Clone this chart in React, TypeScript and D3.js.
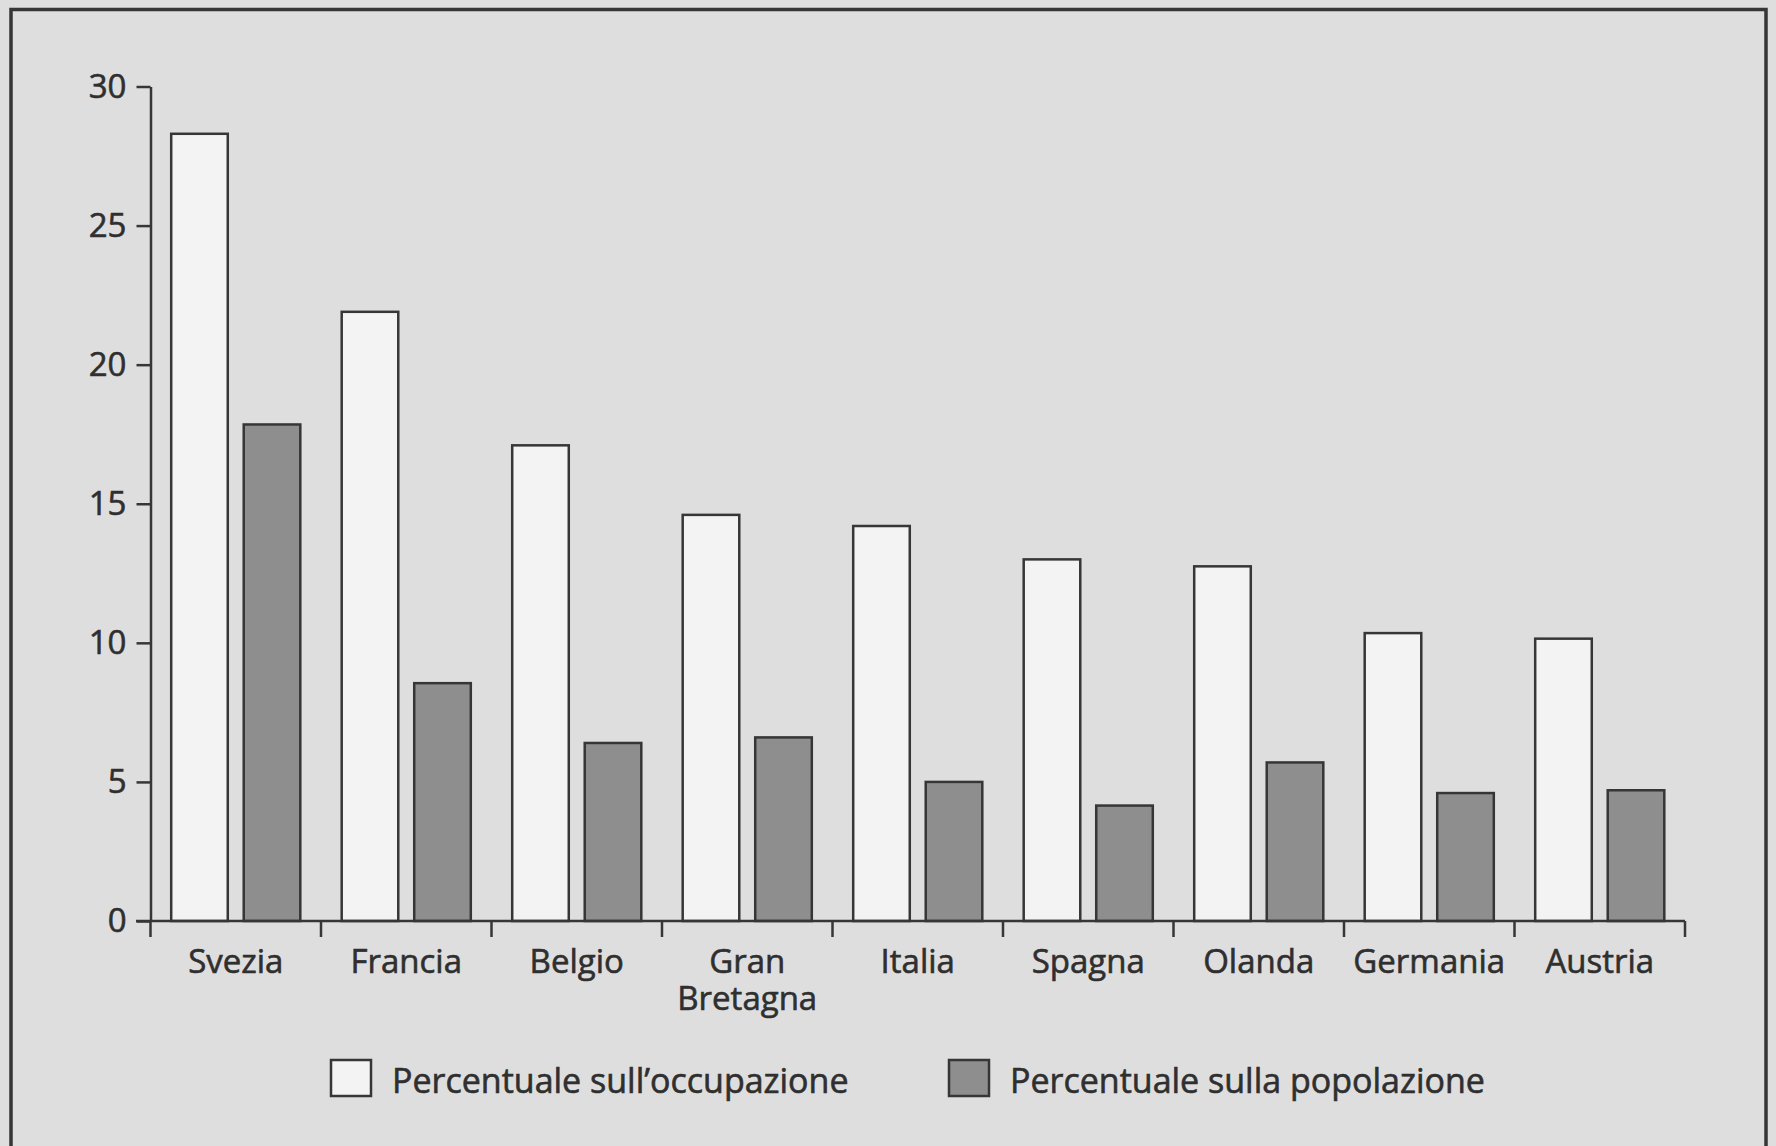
import React, { useEffect, useRef } from 'react';
import * as d3 from 'd3';

// dipendenti pubblici: % sull'occupazione e % sulla popolazione
const countries = ['Svezia', 'Francia', 'Belgio', 'Gran\nBretagna', 'Italia', 'Spagna', 'Olanda', 'Germania', 'Austria'];
const sullOccupazione = [28.3, 21.9, 17.1, 14.6, 14.2, 13.0, 12.75, 10.35, 10.15];
const sullaPopolazione = [17.85, 8.55, 6.4, 6.6, 5.0, 4.15, 5.7, 4.6, 4.7];
const yTicks = [0, 5, 10, 15, 20, 25, 30];
const legendLabels = ['Percentuale sull\u2019occupazione', 'Percentuale sulla popolazione'];

const W = 1776;
const H = 1146;
const ink = '#363636';
const textInk = '#2f2f2f';
const paper = '#dedede';
const font = '"Open Sans", "Noto Sans", sans-serif';

export default function App() {
  const yAxisRef = useRef<SVGGElement>(null);

  const x = d3.scaleBand<string>()
    .domain(countries)
    .range([150.5, 1685])
    .paddingInner(0)
    .paddingOuter(0);

  const inner = d3.scaleBand<string>()
    .domain(['occ', 'pop'])
    .range([20.7, x.bandwidth() - 20.7])
    .paddingInner(0.22)
    .paddingOuter(0);

  const y = d3.scaleLinear().domain([0, 30]).range([921, 86.5]);

  useEffect(() => {
    const g = d3.select(yAxisRef.current);
    g.selectAll('*').remove();
    g.call(d3.axisLeft(y).tickValues(yTicks).tickSize(14).tickSizeOuter(0).tickPadding(10));
    g.select('.domain').attr('stroke', ink).attr('stroke-width', 2.5);
    g.selectAll('.tick line').attr('stroke', ink).attr('stroke-width', 2.5);
    g.selectAll('.tick text')
      .attr('fill', textInk)
      .attr('stroke', textInk)
      .attr('stroke-width', 0.6)
      .style('font-family', font)
      .style('font-size', '33px');
  }, []);

  const boundaries = d3.range(countries.length + 1).map(i => x.range()[0] + i * x.step());

  return (
    <svg width={W} height={H} style={{ position: 'absolute', left: 0, top: 0, background: paper }}>
      <rect x={0} y={0} width={W} height={H} fill={paper} />
      {/* cornice */}
      <path d={`M11,${H + 5}V9.5H1766V${H + 5}`} fill="none" stroke={ink} strokeWidth={3.5} />

      {/* barre */}
      {countries.map((c, i) => (
        <g key={c} transform={`translate(${x(c)},0)`}>
          <rect
            x={inner('occ')}
            y={y(sullOccupazione[i])}
            width={inner.bandwidth()}
            height={y(0) - y(sullOccupazione[i])}
            fill="#f3f3f3"
            stroke={ink}
            strokeWidth={2.5}
          />
          <rect
            x={inner('pop')}
            y={y(sullaPopolazione[i])}
            width={inner.bandwidth()}
            height={y(0) - y(sullaPopolazione[i])}
            fill="#8e8e8e"
            stroke={ink}
            strokeWidth={2.5}
          />
        </g>
      ))}

      {/* asse y */}
      <g ref={yAxisRef} transform="translate(150.5,0)" />

      {/* asse x */}
      <line x1={136} x2={boundaries[boundaries.length - 1]} y1={y(0)} y2={y(0)} stroke={ink} strokeWidth={2.5} />
      {boundaries.map((b, i) => (
        <line key={i} x1={b} x2={b} y1={y(0)} y2={y(0) + 16} stroke={ink} strokeWidth={2.5} />
      ))}
      {countries.map(c => (
        <text
          key={c}
          x={(x(c) ?? 0) + x.bandwidth() / 2}
          y={973}
          textAnchor="middle"
          fill={textInk}
          stroke={textInk}
          strokeWidth={0.6}
          style={{ fontFamily: font, fontSize: 33 }}
        >
          {c.split('\n').map((line, j) => (
            <tspan key={j} x={(x(c) ?? 0) + x.bandwidth() / 2} dy={j === 0 ? 0 : 37}>{line}</tspan>
          ))}
        </text>
      ))}

      {/* legenda */}
      {legendLabels.map((label, i) => {
        const lx = i === 0 ? 331 : 949;
        return (
          <g key={label}>
            <rect x={lx} y={1060} width={40} height={36} fill={i === 0 ? '#f3f3f3' : '#8e8e8e'} stroke={ink} strokeWidth={2.5} />
            <text x={lx + 61} y={1093} fill={textInk} stroke={textInk} strokeWidth={0.6} style={{ fontFamily: font, fontSize: 34 }}>{label}</text>
          </g>
        );
      })}
    </svg>
  );
}
